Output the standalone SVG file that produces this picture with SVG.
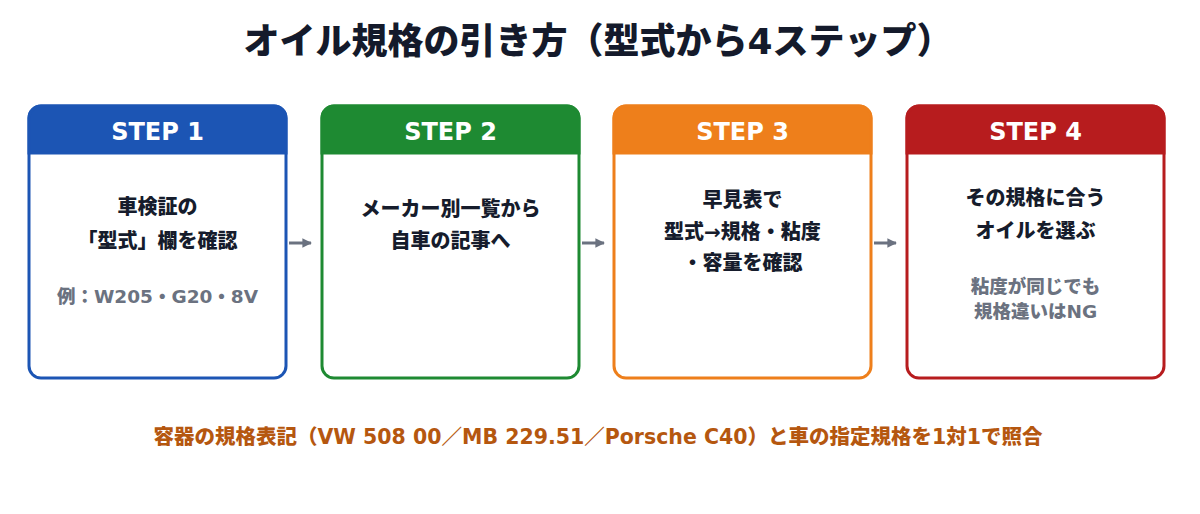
<svg xmlns="http://www.w3.org/2000/svg" width="1200" height="514" viewBox="0 0 1200 514">
<style>
text{font-family:"DejaVu Sans","Noto Sans CJK JP",sans-serif;text-anchor:middle;font-weight:900}
.title{font-size:36px;fill:#141a2b}
.hd{font-size:24px;font-weight:700;fill:#fff}
.main{font-size:20px;fill:#161c2c}
.sub{font-size:18.5px;fill:#6b7280}
.foot{font-size:20.5px;fill:#b5570f}
.box{fill:#fff;stroke-width:3}
.conn{stroke:#6b7280;stroke-width:3;fill:none}
</style>
<defs>
<marker id="ah" viewBox="0 0 10 10" refX="9" refY="5" markerWidth="3.2" markerHeight="3.2" orient="auto" markerUnits="strokeWidth">
<path d="M0,0 L10,5 L0,10 z" fill="#6b7280"/>
</marker>
</defs>
<rect width="1200" height="514" fill="#fff"/>
<text class="title" x="598" y="54">オイル規格の引き方（型式から4ステップ）</text>

<g id="step1">
<rect class="box" x="29" y="106" width="257" height="272" rx="12" stroke="#1c55b4"/>
<path d="M29,153 V118 a12,12 0 0 1 12,-12 H274 a12,12 0 0 1 12,12 V153 z" fill="#1c55b4" stroke="#1c55b4" stroke-width="3"/>
<text class="hd" x="157.5" y="140">STEP 1</text>
<text class="main" x="157.5" y="214">車検証の</text>
<text class="main" x="157.5" y="248">「型式」欄を確認</text>
<text class="sub" x="157.5" y="303">例：W205・G20・8V</text>
</g>

<g id="step2">
<rect class="box" x="322" y="106" width="257" height="272" rx="12" stroke="#1e8a32"/>
<path d="M322,153 V118 a12,12 0 0 1 12,-12 H567 a12,12 0 0 1 12,12 V153 z" fill="#1e8a32" stroke="#1e8a32" stroke-width="3"/>
<text class="hd" x="450.5" y="140">STEP 2</text>
<text class="main" x="450.5" y="216">メーカー別一覧から</text>
<text class="main" x="450.5" y="248">自車の記事へ</text>
</g>

<g id="step3">
<rect class="box" x="614" y="106" width="257" height="272" rx="12" stroke="#ee7f1b"/>
<path d="M614,153 V118 a12,12 0 0 1 12,-12 H859 a12,12 0 0 1 12,12 V153 z" fill="#ee7f1b" stroke="#ee7f1b" stroke-width="3"/>
<text class="hd" x="742.5" y="140">STEP 3</text>
<text class="main" x="742.5" y="207">早見表で</text>
<text class="main" x="742.5" y="239">型式→規格・粘度</text>
<text class="main" x="742.5" y="270">・容量を確認</text>
</g>

<g id="step4">
<rect class="box" x="907" y="106" width="257" height="272" rx="12" stroke="#b71c1e"/>
<path d="M907,153 V118 a12,12 0 0 1 12,-12 H1152 a12,12 0 0 1 12,12 V153 z" fill="#b71c1e" stroke="#b71c1e" stroke-width="3"/>
<text class="hd" x="1035.5" y="140">STEP 4</text>
<text class="main" x="1035.5" y="205">その規格に合う</text>
<text class="main" x="1035.5" y="238">オイルを選ぶ</text>
<text class="sub" x="1035.5" y="293">粘度が同じでも</text>
<text class="sub" x="1035.5" y="318">規格違いはNG</text>
</g>

<g id="connectors">
<line class="conn" x1="289" y1="243" x2="311" y2="243" marker-end="url(#ah)"/>
<line class="conn" x1="582" y1="243" x2="604" y2="243" marker-end="url(#ah)"/>
<line class="conn" x1="874" y1="243" x2="896" y2="243" marker-end="url(#ah)"/>
</g>

<text class="foot" x="598" y="444">容器の規格表記（VW 508 00／MB 229.51／Porsche C40）と車の指定規格を1対1で照合</text>
</svg>
